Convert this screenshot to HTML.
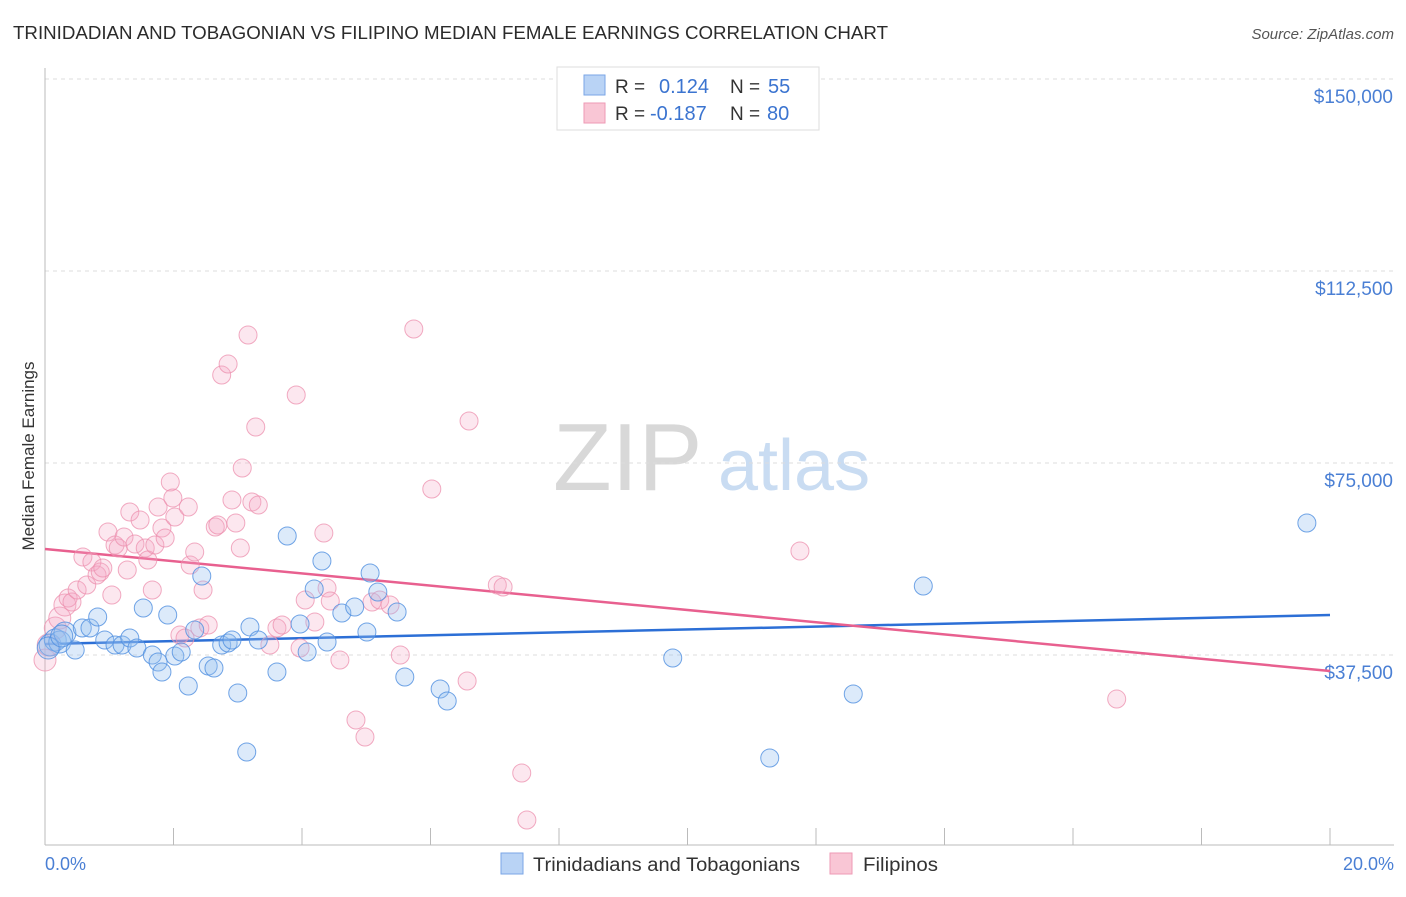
<!DOCTYPE html>
<html><head><meta charset="utf-8"><style>
body{margin:0;background:#fff;font-family:"Liberation Sans",sans-serif;}
svg text{font-family:"Liberation Sans",sans-serif;}
</style></head><body>
<svg id="chart" width="1406" height="892" xmlns="http://www.w3.org/2000/svg">
<text x="13" y="39" font-size="18" fill="#2b2b2b" textLength="875" lengthAdjust="spacingAndGlyphs">TRINIDADIAN AND TOBAGONIAN VS FILIPINO MEDIAN FEMALE EARNINGS CORRELATION CHART</text>
<text x="1394" y="39" font-size="15" fill="#555" text-anchor="end" font-style="italic">Source: ZipAtlas.com</text>
<g>
<text x="553" y="490" font-size="96" fill="#d8d8d8" font-family="Liberation Serif" >ZIP</text>
<text x="718" y="490" font-size="72" fill="#c9dcf2">atlas</text>
</g>
<g id="grid"></g>
<g id="axes"></g>
<g id="trends"></g>
<g id="points"></g>
<text transform="translate(34,456) rotate(-90)" font-size="17" fill="#333" text-anchor="middle">Median Female Earnings</text>
<text x="45" y="870" font-size="18" fill="#4a7fd4">0.0%</text>
<text x="1394" y="870" font-size="18" fill="#4a7fd4" text-anchor="end">20.0%</text>
<g>
<rect x="557" y="67" width="262" height="63" fill="#fff" stroke="#ddd"/>
<rect x="584" y="75" width="21" height="20" fill="#b9d3f5" stroke="#7aa6e6"/>
<rect x="584" y="103" width="21" height="20" fill="#f9c6d5" stroke="#ee9ab5"/>
<text x="615" y="93" font-size="19" fill="#333">R =</text>
<text x="659" y="93" font-size="20" fill="#3b74d0">0.124</text>
<text x="730" y="93" font-size="19" fill="#333">N =</text>
<text x="768" y="93" font-size="20" fill="#3b74d0">55</text>
<text x="615" y="120" font-size="19" fill="#333">R =</text>
<text x="650" y="120" font-size="20" fill="#3b74d0">-0.187</text>
<text x="730" y="120" font-size="19" fill="#333">N =</text>
<text x="767" y="120" font-size="20" fill="#3b74d0">80</text>
</g>
<g>
<rect x="501" y="853" width="22" height="21" fill="#b9d3f5" stroke="#7aa6e6"/>
<text x="533" y="871" font-size="19" fill="#333" textLength="267" lengthAdjust="spacingAndGlyphs">Trinidadians and Tobagonians</text>
<rect x="830" y="853" width="22" height="21" fill="#f9c6d5" stroke="#ee9ab5"/>
<text x="863" y="871" font-size="19" fill="#333" textLength="75" lengthAdjust="spacingAndGlyphs">Filipinos</text>
</g>
</svg>
<script>
const yTicks=[37500,75000,112500,150000];
const yTickLabels=["$37,500","$75,000","$112,500","$150,000"];
const xTicks=[0,2,4,6,8,10,12,14,16,18,20];
const blueX=[0.08,0.16,0.23,0.31,0.47,0.58,0.70,0.82,0.93,1.09,1.20,1.32,1.43,1.53,1.67,1.76,1.82,1.91,2.02,2.12,2.23,2.33,2.44,2.54,2.63,2.75,2.85,2.91,3.00,3.14,3.19,3.32,3.61,3.77,3.97,4.08,4.19,4.31,4.39,4.62,4.82,5.01,5.06,5.18,5.48,5.60,6.15,6.26,9.77,11.28,12.58,13.67,19.64,0.05,0.26];
const blueY=[39450,40430,40040,41790,38470,42770,42770,44920,40430,39450,39450,40820,38860,46680,37500,36130,34180,45310,37300,38080,31440,42380,52930,35350,34960,39450,39840,40430,30080,18550,42970,40430,34180,60740,43550,38080,50390,55860,40040,45700,46870,41990,53510,49800,45900,33200,30860,28510,36910,17380,29880,50970,63280,38860,41210];
const pinkX=[0,0.05,0.16,0.23,0.31,0.36,0.42,0.50,0.59,0.65,0.73,0.81,0.86,0.90,0.98,1.04,1.09,1.14,1.23,1.28,1.32,1.40,1.48,1.56,1.60,1.67,1.71,1.76,1.82,1.87,1.95,1.99,2.02,2.10,2.18,2.23,2.26,2.33,2.41,2.46,2.54,2.65,2.69,2.75,2.85,2.91,2.97,3.04,3.07,3.16,3.22,3.28,3.32,3.50,3.61,3.69,3.91,3.97,4.05,4.20,4.34,4.39,4.44,4.59,4.84,4.98,5.09,5.21,5.37,5.53,5.74,6.02,6.57,6.60,7.04,7.13,7.42,7.50,11.75,16.68];
const pinkY=[36520,39450,42770,44720,47260,48630,47850,50190,56640,51170,55660,53120,53710,54490,61520,49220,58980,58390,60540,54100,65430,59180,63860,58390,56050,50190,58980,66400,62300,60350,71280,68160,64450,41400,40820,66400,55070,57610,42770,50190,43360,62500,62890,92180,94330,67770,63280,58390,74020,99990,67380,82030,66790,39450,42770,43360,88280,38860,48240,43940,61320,50580,48040,36520,24800,21480,47850,48240,47260,37500,101170,69920,32420,83200,51170,50780,14450,5270,57810,28900];
const blueTrend=[39650,45310];
const pinkTrend=[58200,34370];
const xs=v=>45+v/20*1285;
const ys=v=>847-v/37500*192;
const NS="http://www.w3.org/2000/svg";
function mk(tag,attrs,parent){const e=document.createElementNS(NS,tag);for(const k in attrs)e.setAttribute(k,attrs[k]);parent.appendChild(e);return e;}
const grid=document.getElementById('grid'),axes=document.getElementById('axes');
yTicks.forEach((t,i)=>{
 const l=mk('line',{x1:45,x2:1394,y1:ys(t),y2:ys(t),stroke:'#ddd','stroke-dasharray':'4,4'},grid);
 
 
 const tx=mk('text',{x:1393,y:ys(t)+24,'font-size':19,fill:'#4a7fd4','text-anchor':'end'},axes);
 tx.textContent=yTickLabels[i];
 
 
});
const ya=mk('line',{x1:45,x2:45,y1:68,y2:845,stroke:'#bbb'},axes);


const xa=mk('line',{x1:45,x2:1394,y1:845,y2:845,stroke:'#bbb'},axes);


xTicks.forEach(t=>{
 const l=mk('line',{x1:xs(t),x2:xs(t),y1:828,y2:845,stroke:'#bbb'},axes);
 
 
});
const pts=document.getElementById('points');
function drawPts(X,Y,fill,stroke,name){
 X.forEach((x,i)=>{
  const r=(x<0.35)?11:9;
  const c=mk('circle',{cx:xs(x),cy:ys(Y[i]),r:r,fill:fill,stroke:stroke,'stroke-width':1},pts);
  
  
 });
}
drawPts(pinkX,pinkY,'rgba(246,170,196,0.28)','rgba(236,143,174,0.75)','filipino-point');
drawPts(blueX,blueY,'rgba(150,190,240,0.33)','rgba(79,142,224,0.8)','trinidadian-point');
const tr=document.getElementById('trends');
const bl=mk('line',{x1:xs(0),x2:xs(20),y1:ys(blueTrend[0]),y2:ys(blueTrend[1]),stroke:'#2c6fd6','stroke-width':2.5},tr);


const pl=mk('line',{x1:xs(0),x2:xs(20),y1:ys(pinkTrend[0]),y2:ys(pinkTrend[1]),stroke:'#e8608f','stroke-width':2.5},tr);


</script>
</body></html>
